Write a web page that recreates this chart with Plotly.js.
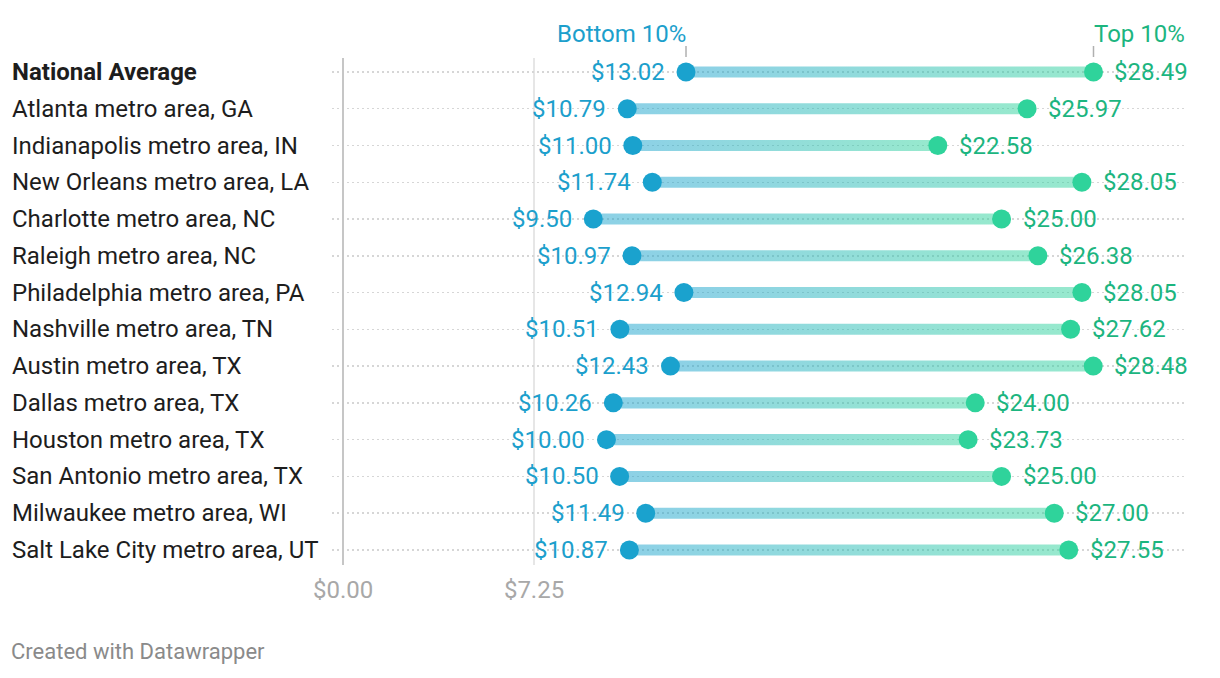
<!DOCTYPE html>
<html><head><meta charset="utf-8">
<script src="https://cdn.plot.ly/plotly-3.0.1.min.js"></script>
<style>html,body{margin:0;padding:0;background:#fff}#chart{width:1220px;height:678px}</style>
</head><body><div id="chart"></div>
<script>
var categories = ["National Average","Atlanta metro area, GA","Indianapolis metro area, IN","New Orleans metro area, LA","Charlotte metro area, NC","Raleigh metro area, NC","Philadelphia metro area, PA","Nashville metro area, TN","Austin metro area, TX","Dallas metro area, TX","Houston metro area, TX","San Antonio metro area, TX","Milwaukee metro area, WI","Salt Lake City metro area, UT"];
var bottom10 = [13.02,10.79,11.00,11.74,9.50,10.97,12.94,10.51,12.43,10.26,10.00,10.50,11.49,10.87];
var top10 = [28.49,25.97,22.58,28.05,25.00,26.38,28.05,27.62,28.48,24.00,23.73,25.00,27.00,27.55];
var xTickVals = [0, 7.25];
var xTickText = ["$0.00", "$7.25"];

var BLUE = "#1aa2ce", GREEN = "#2fd39b";
var BLUE_TXT = "#1c9fcc", GREEN_TXT = "#1cb57f";
var FONT = "Roboto, 'Open Sans', sans-serif";
var half = 0.15;
var rows = categories.map(function(_, i){ return i; });
var fmt = function(v){ return "$" + v.toFixed(2); };

var traces = [];
rows.forEach(function(i){
  var lo = bottom10[i], hi = top10[i];
  traces.push({
    type: "scatter", mode: "lines", hoverinfo: "skip", showlegend: false,
    x: [lo, hi, hi, lo, lo], y: [i - half, i - half, i + half, i + half, i - half],
    fill: "toself", line: {width: 0, color: "rgba(0,0,0,0)"},
    fillgradient: {type: "horizontal", start: lo, stop: hi,
      colorscale: [[0, "rgba(26,162,206,0.5)"], [1, "rgba(47,211,155,0.5)"]]}
  });
});
traces.push({type: "scatter", mode: "markers", hoverinfo: "skip", showlegend: false,
  x: bottom10, y: rows, marker: {size: 19, color: BLUE}});
traces.push({type: "scatter", mode: "markers", hoverinfo: "skip", showlegend: false,
  x: top10, y: rows, marker: {size: 19, color: GREEN}});

var annotations = [];
rows.forEach(function(i){
  annotations.push({xref: "paper", yref: "y", x: -0.3766, y: i, xanchor: "left", yanchor: "middle",
    text: i === 0 ? "<b>" + categories[i] + "</b>" : categories[i], showarrow: false,
    font: {family: FONT, size: 24, color: "#1d1d1d"}});
  annotations.push({x: bottom10[i], y: i, xanchor: "right", yanchor: "middle", xshift: -19,
    text: fmt(bottom10[i]), showarrow: false, font: {family: FONT, size: 24, color: BLUE_TXT}});
  annotations.push({x: top10[i], y: i, xanchor: "left", yanchor: "middle", xshift: 19,
    text: fmt(top10[i]), showarrow: false, font: {family: FONT, size: 24, color: GREEN_TXT}});
});
annotations.push({x: bottom10[0], y: 0, xanchor: "right", yanchor: "middle", yshift: 38, xshift: 2,
  text: "Bottom 10%", showarrow: false, font: {family: FONT, size: 24, color: BLUE_TXT}});
annotations.push({x: top10[0], y: 0, xanchor: "left", yanchor: "middle", yshift: 38, xshift: -1,
  text: "Top 10%", showarrow: false, font: {family: FONT, size: 24, color: GREEN_TXT}});
annotations.push({xref: "paper", yref: "paper", x: -0.3778, y: -0.17, xanchor: "left", yanchor: "middle",
  text: "Created with Datawrapper", showarrow: false, font: {family: FONT, size: 22, color: "#8a8a8a"}});

var shapes = [
  {type: "line", xref: "x", yref: "paper", x0: bottom10[0], x1: bottom10[0], y0: 1.002, y1: 1.0237, line: {color: "#b0b0b0", width: 1.5}},
  {type: "line", xref: "x", yref: "paper", x0: top10[0], x1: top10[0], y0: 1.002, y1: 1.0237, line: {color: "#b0b0b0", width: 1.5}}
];

var layout = {
  width: 1220, height: 678, paper_bgcolor: "#fff", plot_bgcolor: "#fff",
  margin: {l: 332, r: 33, t: 58, b: 113},
  font: {family: FONT},
  showlegend: false,
  xaxis: {range: [-0.42, 32.04], tickvals: xTickVals, ticktext: xTickText, showgrid: true,
    gridcolor: "#e6e6e6", gridwidth: 1.5, zeroline: true, zerolinecolor: "#c6c6c6", zerolinewidth: 2,
    ticks: "", ticklabelstandoff: 8, tickfont: {family: FONT, size: 24, color: "#a8a8a8"}, fixedrange: true, showline: false},
  yaxis: {range: [13.41, -0.38], tickvals: rows, showticklabels: false, showgrid: true,
    gridcolor: "#d6d6d6", griddash: "2px,3px", gridwidth: 1.5, zeroline: false, fixedrange: true, showline: false},
  annotations: annotations, shapes: shapes
};
Plotly.newPlot("chart", traces, layout, {displayModeBar: false, staticPlot: true});
</script></body></html>
